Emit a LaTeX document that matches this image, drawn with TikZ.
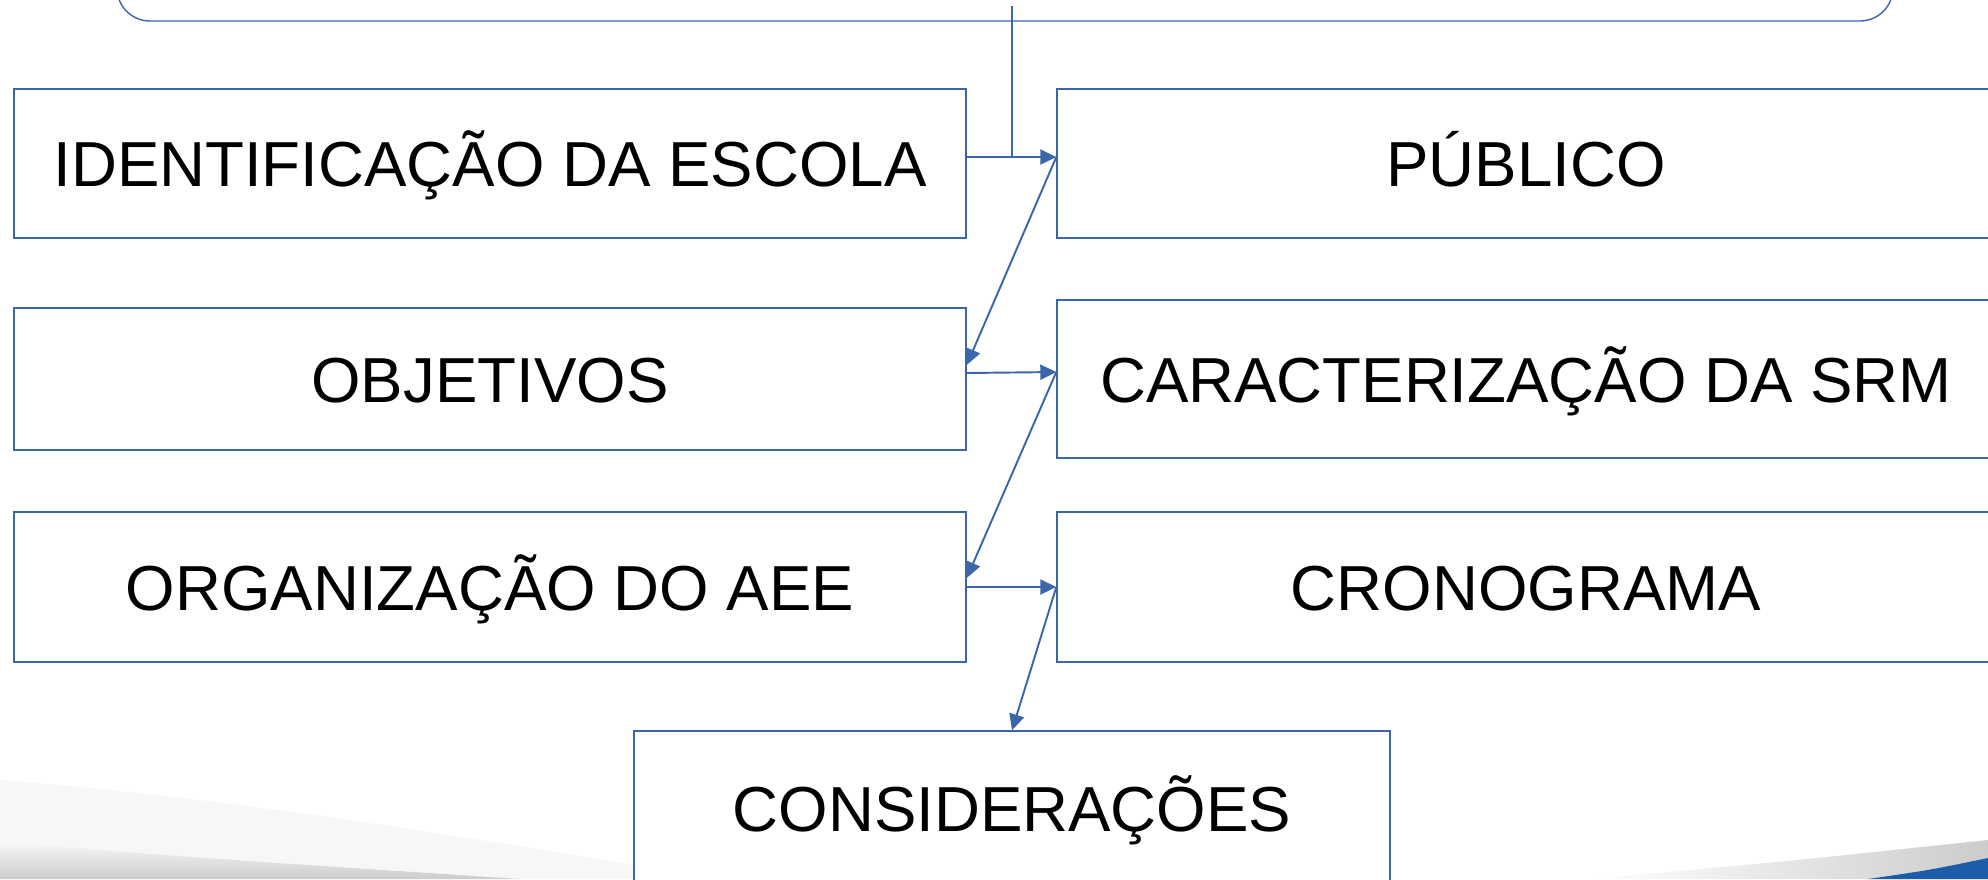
\documentclass[tikz,border=0pt]{standalone}
\usepackage{fontspec}
\setmainfont{Liberation Sans}
\usetikzlibrary{arrows.meta, positioning}
\definecolor{azul}{RGB}{59,103,170}
\definecolor{azulfaixa}{RGB}{28,92,168}

\begin{document}
\begin{tikzpicture} [x=0.1mm, y=-0.1mm, node distance=10.36cm, on grid,
        caixa/.style={draw=azul, line width=0.4pt, fill=white, minimum width=95.2mm,
            font=\fontsize{18.1}{21}\selectfont, text height=4.6mm, text depth=0pt, inner sep=0pt},
        larga/.style={caixa, minimum width=93.8mm},
        liga/.style={azul, line width=0.55pt, -{Triangle[length=1.6mm, width=1.5mm]}}]
        \useasboundingbox (0,0) rectangle (1988,879);

        % fundo do slide
        \fill [black!3] (0,780) .. controls (250,800) and (450,835) .. (720,879) -- (0,879) -- cycle;
        \shade [top color=black!3, bottom color=black!20] (0,842) .. controls (200,858) .. (520,879) -- (0,879) -- cycle;
        \shade [left color=white, right color=black!20] (1589,879) .. controls (1780,862) .. (1988,840) -- (1988,879) -- cycle;
        \fill [azulfaixa] (1868,879) .. controls (1930,870) .. (1988,858) -- (1988,879) -- cycle;

        \node (topo) [draw=azul, line width=0.4pt, rounded corners=3.3mm, minimum width=177.6mm, minimum height=16.2mm] at (1005,-60) {};

        \node (ident) [caixa, minimum height=14.9mm] at (490,163.5) {IDENTIFICAÇÃO DA ESCOLA};
        \node (obj) [caixa, minimum height=14.2mm] at (490,379) {OBJETIVOS};
        \node (org) [caixa, minimum height=15mm] at (490,587) {ORGANIZAÇÃO DO AEE};
        \node (pub) [larga, minimum height=14.9mm, right=of ident] {PÚBLICO};
        \node (car) [larga, minimum height=15.8mm, right=of obj] {CARACTERIZAÇÃO DA SRM};
        \node (cro) [larga, minimum height=15mm, right=of org] {CRONOGRAMA};
        \node (cons) [caixa, minimum width=75.6mm, minimum height=15.4mm] at (1012,808) {CONSIDERAÇÕES};

        \coordinate (saida) at (1012,6);
        \coordinate (juncao) at (1012,157);
        \draw [azul, line width=0.4pt] (saida) -- (juncao);

        \path [liga] ([yshift=0.65mm]ident.east) edge ([yshift=0.65mm]pub.west);
        \path [liga] ([yshift=0.65mm]pub.west) edge ([yshift=1.4mm]obj.east);
        \path [liga] ([yshift=0.6mm]obj.east) edge ([yshift=0.7mm]car.west);
        \path [liga] ([yshift=0.7mm]car.west) edge ([yshift=0.9mm]org.east);
        \path [liga] (org.east) edge (cro.west);
        \path [liga] (cro.west) edge (cons.north);
    \end{tikzpicture}
\end{document}
